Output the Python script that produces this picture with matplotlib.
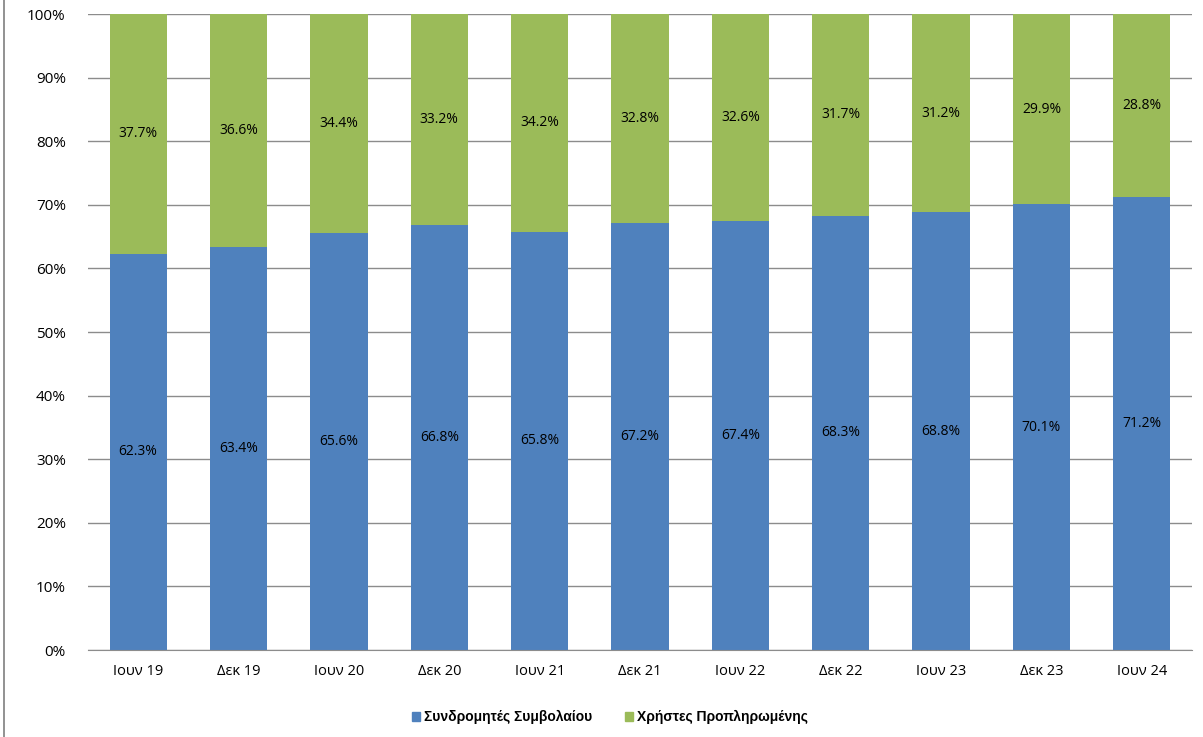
import matplotlib
matplotlib.use("Agg")
import matplotlib.pyplot as plt
from matplotlib.lines import Line2D
from matplotlib.patches import Patch
import numpy as np

categories = ["Ιουν 19", "Δεκ 19", "Ιουν 20", "Δεκ 20", "Ιουν 21", "Δεκ 21",
              "Ιουν 22", "Δεκ 22", "Ιουν 23", "Δεκ 23", "Ιουν 24"]
contract = [62.3, 63.4, 65.6, 66.8, 65.8, 67.2, 67.4, 68.3, 68.8, 70.1, 71.2]
prepaid = [37.7, 36.6, 34.4, 33.2, 34.2, 32.8, 32.6, 31.7, 31.2, 29.9, 28.8]
series_names = ["Συνδρομητές Συμβολαίου", "Χρήστες Προπληρωμένης"]

blue = "#4f81bd"
green = "#9bbb59"
grid_col = "#8c8c8c"
label_font = "Open Sans"

fig = plt.figure(figsize=(12.03, 7.37), dpi=100)
ax = fig.add_axes([88 / 1203, 1 - 650 / 737, (1192 - 88) / 1203, (650 - 14) / 737])

x = np.arange(len(categories))
w = 0.57
ax.bar(x, contract, w, color=blue, zorder=2)
ax.bar(x, prepaid, w, bottom=contract, color=green, zorder=2)

# value labels centred in each segment
for i in range(len(x)):
    ax.text(x[i], contract[i] / 2, f"{contract[i]:.1f}%", ha="center", va="center",
            fontsize=10, family=label_font, color="black", zorder=3)
    ax.text(x[i], contract[i] + prepaid[i] / 2, f"{prepaid[i]:.1f}%", ha="center",
            va="center", fontsize=10, family=label_font, color="black", zorder=3)

ax.set_xlim(-0.5, len(categories) - 0.5)
ax.set_ylim(0, 100)
ax.set_yticks(np.arange(0, 101, 10))
ax.set_yticklabels([f"{v}%" for v in range(0, 101, 10)], family=label_font, fontsize=11)
ax.set_xticks(x)
ax.set_xticklabels(categories, family=label_font, fontsize=10.5)
ax.tick_params(axis="both", length=0, pad=10)
ax.tick_params(axis="y", pad=16)
ax.yaxis.grid(True, color=grid_col, linewidth=1)
ax.set_axisbelow(True)
for s in ["top", "right", "left"]:
    ax.spines[s].set_visible(False)
ax.spines["bottom"].set_color(grid_col)

handles = [Patch(color=blue), Patch(color=green)]
fig.legend(handles, series_names, loc="center", bbox_to_anchor=(0.507, 1 - 717 / 737),
           ncol=2, frameon=False, handlelength=0.6, handleheight=0.6, handletextpad=0.3,
           columnspacing=2.3, prop={"family": "Liberation Sans", "weight": "bold", "size": 10})

fig.add_artist(Line2D([3.5 / 1203, 3.5 / 1203], [0, 1], color="#7f7f7f", linewidth=1.2))

fig.savefig("out.png", dpi=100)
